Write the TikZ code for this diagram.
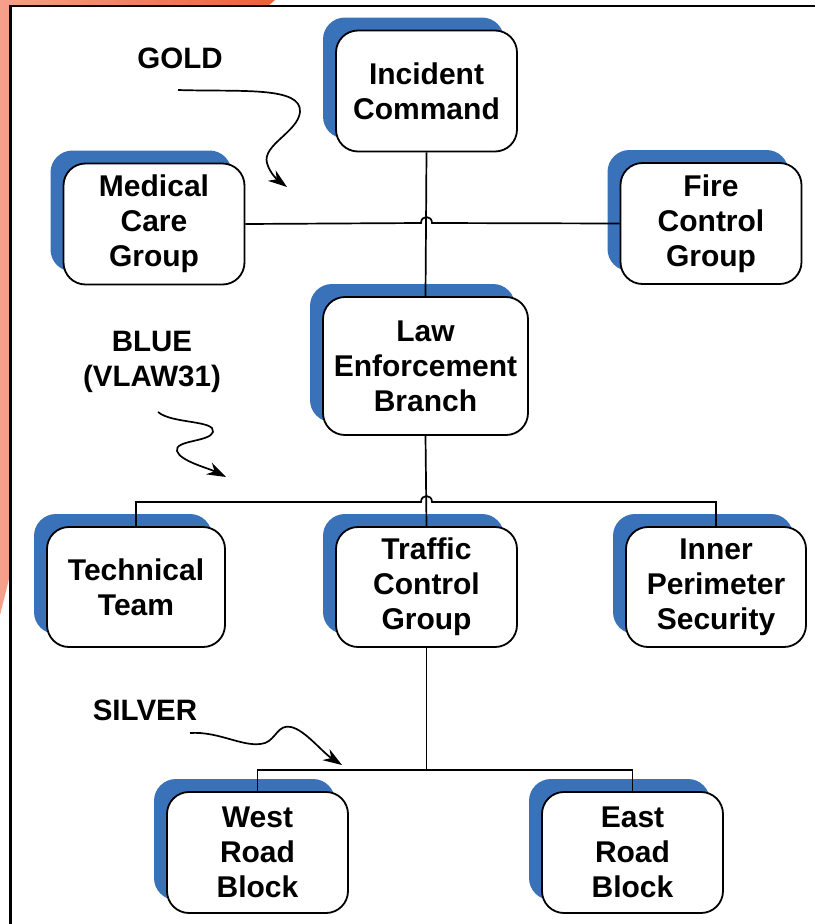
\documentclass[tikz,border=0pt]{standalone}
\usepackage{fontspec}
\setmainfont{Liberation Sans}
\usetikzlibrary{arrows.meta,shadows}
\definecolor{shadowblue}{HTML}{3A72BA}
\definecolor{salmonlight}{HTML}{F5A08A}
\definecolor{salmondark}{HTML}{EF5E3A}

\begin{document}
\begin{tikzpicture}[x=1pt,y=-1pt,>=Stealth,
  unit/.style={draw,line width=1.8pt,fill=white,rounded corners=22pt,
               minimum width=181pt,minimum height=121pt,inner sep=0pt,
               align=center,font=\bfseries\fontsize{30}{35}\selectfont,
               general shadow={fill=shadowblue,shadow xshift=-13pt,shadow yshift=13pt}},
  tag/.style={align=center,font=\bfseries\fontsize{29.5}{35}\selectfont},
  link/.style={line width=1.7pt},
  wiggle/.style={line width=1.7pt,-{Stealth[length=19pt,width=13pt]}}]
\useasboundingbox (0,0) rectangle (815,924);
% page corner and frame
\shade[left color=salmonlight,right color=salmondark]
  (0,0) -- (275,0) -- (268,6) -- (10,6) -- (10,575) -- (0,615) -- cycle;
\fill[white] (10,6) rectangle (815,924);
\draw[line width=2.5pt] (10.5,924) -- (10.5,6) -- (815,6);
% units
\node[unit] (command) at (426.5,91) {Incident\\Command};
\node[unit] (medical) at (154,224) {Medical\\Care\\Group};
\node[unit] (fire) at (711,223.5) {Fire\\Control\\Group};
\node[unit,minimum width=205pt,minimum height=138pt] (law) at (425.5,366) {Law\\Enforcement\\Branch};
\node[unit,minimum width=178pt,minimum height=120pt] (technical) at (136,587) {Technical\\Team};
\node[unit,minimum height=120pt] (traffic) at (426.5,587) {Traffic\\Control\\Group};
\node[unit,minimum width=180pt,minimum height=120pt] (inner) at (716,587) {Inner\\Perimeter\\Security};
\node[unit] (west) at (257.5,852.5) {West\\Road\\Block};
\node[unit] (east) at (632.5,852.5) {East\\Road\\Block};
% command levels
\node[tag] (gold) at (180,58) {GOLD};
\node[tag] (blue) at (152,362) {BLUE\\(VLAW31)};
\node[tag] (silver) at (145,710) {SILVER};
% links
\draw[link] (command.south) -- (law.north);
\draw[link] (medical.east) -- (421,223) .. controls (421,215) and (432,215) .. (432,223) -- (fire.west);
\draw[link] (law.south) -- (traffic.north);
\draw[link] (technical.north) |- (421,502) .. controls (421,494) and (432,494) .. (432,502) -| (inner.north);
\coordinate (split) at (426.5,770);
\draw[link] (traffic.south) -- (split);
\draw[link] (west.north) |- (split) -| (east.north);
% wavy pointers
\coordinate (goldtail) at (178,90);
\coordinate (goldtip) at (287,187);
\draw[wiggle] (goldtail) .. controls (240,92) and (302,86) .. (300,112)
  .. controls (298,132) and (262,145) .. (267,163)
  .. controls (270,174) and (279,181) .. (goldtip);
\coordinate (bluetail) at (158,412);
\coordinate (bluetip) at (226,477);
\draw[wiggle] (bluetail) .. controls (172,424) and (216,420) .. (213,432)
  .. controls (210,442) and (174,440) .. (177,451)
  .. controls (180,461) and (208,468) .. (bluetip);
\coordinate (silvertail) at (190,733);
\coordinate (silvertip) at (342,765);
\draw[wiggle] (silvertail) .. controls (220,731) and (245,749) .. (265,743)
  .. controls (276,739) and (278,724) .. (291,727)
  .. controls (305,730) and (322,752) .. (silvertip);
\end{tikzpicture}
\end{document}
